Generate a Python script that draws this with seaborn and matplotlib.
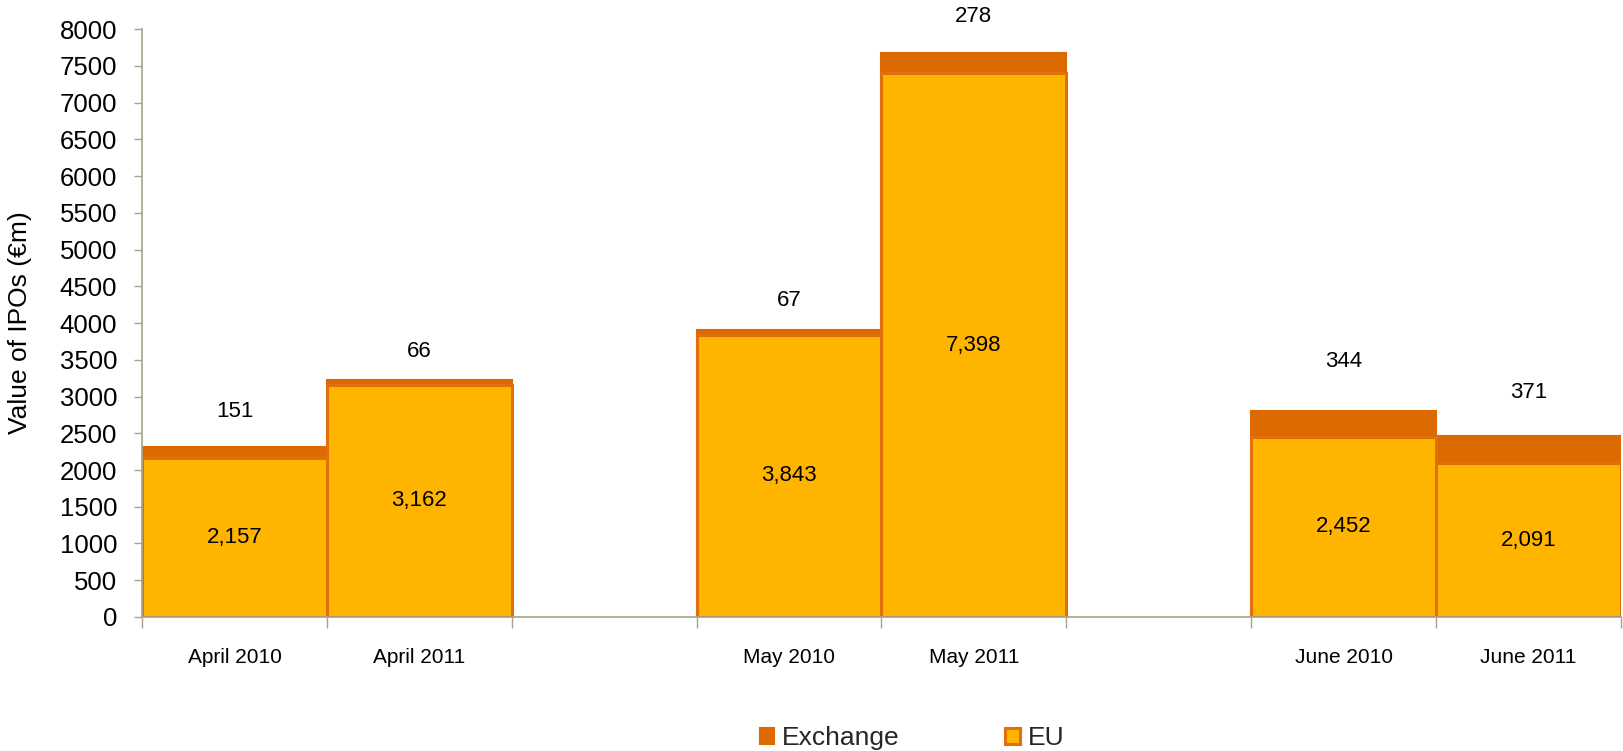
import matplotlib
matplotlib.use("Agg")
import matplotlib.pyplot as plt
from matplotlib.patches import Patch
from matplotlib.ticker import FixedLocator, NullFormatter
import seaborn as sns
import pandas as pd
import numpy as np

# Monthly IPO values (EUR m), split into EU and Exchange components
months = ["April 2010", "April 2011", "May 2010", "May 2011", "June 2010", "June 2011"]
eu_values = [2157, 3162, 3843, 7398, 2452, 2091]
exchange_values = [151, 66, 67, 278, 344, 371]

# Category slots along the x axis; blank slots separate the month pairs
slot_order = ["April 2010", "April 2011", "", "May 2010", "May 2011", " ", "June 2010", "June 2011"]
y_ticks = list(range(0, 8001, 500))

# Vertical gap (points) between each bar top and its Exchange label
label_pad = [26, 20, 21, 26, 36, 31]

EU_COLOR = "#FFB500"
EXCH_COLOR = "#DD6A00"
EDGE_COLOR = "#E0700A"
AXIS_COLOR = "#A8A28C"

sns.set_style("white")
plt.rcParams["font.family"] = ["Liberation Sans", "DejaVu Sans"]

df = pd.DataFrame({"month": months, "EU": eu_values, "Exchange": exchange_values})
df["Total"] = df["EU"] + df["Exchange"]

fig = plt.figure(figsize=(16.24, 7.51), dpi=100)
ax = fig.add_axes([0.0875, 0.17843, 0.9105, 0.78295])

# Stacked bars: full total in the Exchange colour, EU drawn over it from zero
sns.barplot(data=df, x="month", y="Total", order=slot_order, color=EXCH_COLOR,
            width=1.0, saturation=1, edgecolor=EXCH_COLOR, linewidth=1.5, ax=ax, errorbar=None)
sns.barplot(data=df, x="month", y="EU", order=slot_order, color=EU_COLOR,
            width=1.0, saturation=1, edgecolor=EDGE_COLOR, linewidth=2.2, ax=ax, errorbar=None)

pos = {name: i for i, name in enumerate(slot_order)}
for m, eu, ex, tot, pad in zip(df["month"], df["EU"], df["Exchange"], df["Total"], label_pad):
    x = pos[m]
    ax.text(x, eu / 2, f"{eu:,}", ha="center", va="center", fontsize=16, color="black")
    ax.annotate(f"{ex:,}", xy=(x, tot), xytext=(0, pad), textcoords="offset points",
                ha="center", va="center", fontsize=16, color="black", annotation_clip=False)

ax.set_xlim(-0.5, len(slot_order) - 0.5)
ax.set_ylim(0, 8000)
ax.set_yticks(y_ticks)
ax.set_yticklabels([str(v) for v in y_ticks], fontsize=18.5, color="black")

# Tick marks at slot boundaries, labels at slot centres
ax.xaxis.set_major_locator(FixedLocator(np.arange(-0.5, len(slot_order), 1.0)))
ax.xaxis.set_major_formatter(NullFormatter())
ax.xaxis.set_minor_locator(FixedLocator(np.arange(len(slot_order))))
ax.set_xticklabels(slot_order, minor=True, fontsize=15, color="black")
ax.tick_params(axis="x", which="major", direction="out", length=8, width=1, color=AXIS_COLOR, bottom=True)
ax.tick_params(axis="x", which="minor", length=0, pad=22, bottom=True)
ax.tick_params(axis="y", direction="out", length=6, width=1, color=AXIS_COLOR, pad=12, left=True)
ax.set_xlabel("")
ax.set_ylabel("Value of IPOs (€m)", fontsize=19, color="black")
ax.yaxis.set_label_coords(-0.0745, 0.5)

sns.despine(ax=ax)
for side in ("left", "bottom"):
    ax.spines[side].set_color(AXIS_COLOR)
    ax.spines[side].set_linewidth(1.2)

handles = [Patch(facecolor=EXCH_COLOR, edgecolor=EXCH_COLOR, linewidth=1.5),
           Patch(facecolor=EU_COLOR, edgecolor=EDGE_COLOR, linewidth=2.2)]
fig.legend(handles, ["Exchange", "EU"], loc="center", bbox_to_anchor=(0.5615, 1 - 738 / 751),
           ncol=2, frameon=False, fontsize=19, handlelength=0.55, handleheight=0.55,
           handletextpad=0.3, columnspacing=4.0)

fig.savefig("out.png", dpi=100)
